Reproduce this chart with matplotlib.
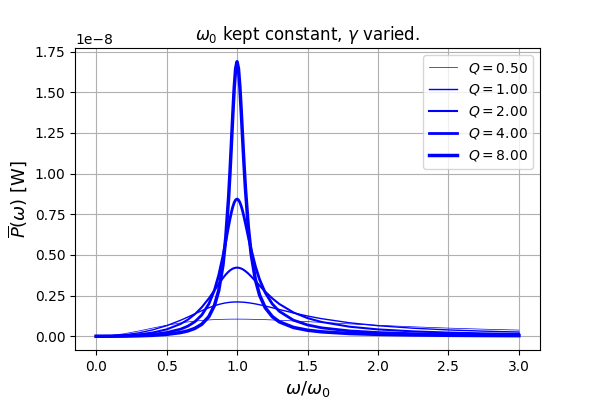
import matplotlib
matplotlib.use("Agg")
import matplotlib.pyplot as plt

# omega / omega_0 sample points
x_vals = [0.0, 0.1, 0.2, 0.3, 0.4, 0.5, 0.6, 0.65, 0.7, 0.75, 0.8, 0.84, 0.87,
          0.9, 0.92, 0.94, 0.95, 0.96, 0.97, 0.98, 0.99, 1.0, 1.01, 1.02, 1.03,
          1.04, 1.05, 1.06, 1.08, 1.1, 1.13, 1.16, 1.2, 1.25, 1.3, 1.4, 1.5,
          1.6, 1.8, 2.0, 2.25, 2.5, 2.75, 3.0]

q_values = [0.5, 1.0, 2.0, 4.0, 8.0]

# average power, in units of 1e-8 W
p_q050 = [0.0, 0.00414, 0.01561, 0.03197, 0.05018, 0.06752, 0.08214, 0.08811,
          0.09314, 0.09723, 0.10042, 0.10236, 0.10348, 0.10434, 0.10477, 0.10510,
          0.10522, 0.10532, 0.10540, 0.10546, 0.10549, 0.10550, 0.10549, 0.10546,
          0.10541, 0.10534, 0.10525, 0.10514, 0.10488, 0.10455, 0.10394, 0.10321,
          0.10207, 0.10042, 0.09856, 0.09440, 0.08989, 0.08524, 0.07605, 0.06752,
          0.05813, 0.05018, 0.04353, 0.03798]
p_q100 = [0.0, 0.00213, 0.00878, 0.02068, 0.03900, 0.06492, 0.09870, 0.11792,
          0.13784, 0.15743, 0.17547, 0.18792, 0.19572, 0.20200, 0.20528, 0.20781,
          0.20880, 0.20960, 0.21022, 0.21066, 0.21092, 0.21100, 0.21092, 0.21067,
          0.21027, 0.20971, 0.20901, 0.20817, 0.20611, 0.20358, 0.19905, 0.19380,
          0.18599, 0.17547, 0.16462, 0.14352, 0.12452, 0.10817, 0.08279, 0.06492,
          0.04953, 0.03900, 0.03152, 0.02601]
p_q200 = [0.0, 0.00107, 0.00453, 0.01116, 0.02264, 0.04220, 0.07602, 0.10150,
          0.13512, 0.17873, 0.23315, 0.28297, 0.32157, 0.35815, 0.37967, 0.39761,
          0.40494, 0.41103, 0.41583, 0.41926, 0.42132, 0.42200, 0.42133, 0.41937,
          0.41618, 0.41186, 0.40650, 0.40023, 0.38540, 0.36831, 0.34027, 0.31143,
          0.27442, 0.23315, 0.19841, 0.14648, 0.11171, 0.08787, 0.05866, 0.04220,
          0.03006, 0.02264, 0.01775, 0.01433]
p_q400 = [0.0, 0.00054, 0.00228, 0.00569, 0.01179, 0.02281, 0.04395, 0.06192,
          0.08891, 0.13096, 0.19906, 0.28462, 0.37523, 0.49268, 0.58368, 0.67772,
          0.72228, 0.76261, 0.79668, 0.82251, 0.83858, 0.84400, 0.83868, 0.82334,
          0.79929, 0.76832, 0.73234, 0.69320, 0.61167, 0.53312, 0.43046, 0.34873,
          0.26784, 0.19906, 0.15325, 0.09902, 0.06969, 0.05207, 0.03274, 0.02281,
          0.01588, 0.01179, 0.00916, 0.00735]
p_q800 = [0.0, 0.00027, 0.00114, 0.00286, 0.00596, 0.01164, 0.02287, 0.03277,
          0.04827, 0.07410, 0.12092, 0.19049, 0.28148, 0.43817, 0.60633, 0.85193,
          1.00831, 1.18302, 1.36395, 1.52830, 1.64545, 1.68800, 1.64627, 1.53400,
          1.37938, 1.21089, 1.04853, 0.90259, 0.67003, 0.50652, 0.34857, 0.25266,
          0.17575, 0.12091, 0.08870, 0.05429, 0.03714, 0.02730, 0.01686, 0.01164,
          0.00805, 0.00596, 0.00462, 0.00370]

curves = [p_q050, p_q100, p_q200, p_q400, p_q800]
widths = [0.5, 1.0, 1.5, 2.0, 2.5]

fig, ax = plt.subplots(figsize=(6, 4), dpi=100)

for q, p, lw in zip(q_values, curves, widths):
    ax.plot(x_vals, [v * 1e-8 for v in p], color="blue", linewidth=lw,
            label=rf"$Q = {q:.2f}$")

ax.set_title(r"$\omega_0$ kept constant, $\gamma$ varied.")
ax.set_xlabel(r"$\omega/\omega_0$", fontsize=13)
ax.set_ylabel(r"$\overline{P}(\omega)$ [W]", fontsize=13)
ax.grid(True)
ax.legend(loc="upper right")

fig.subplots_adjust(bottom=0.125)
fig.savefig("out.png", dpi=100)
